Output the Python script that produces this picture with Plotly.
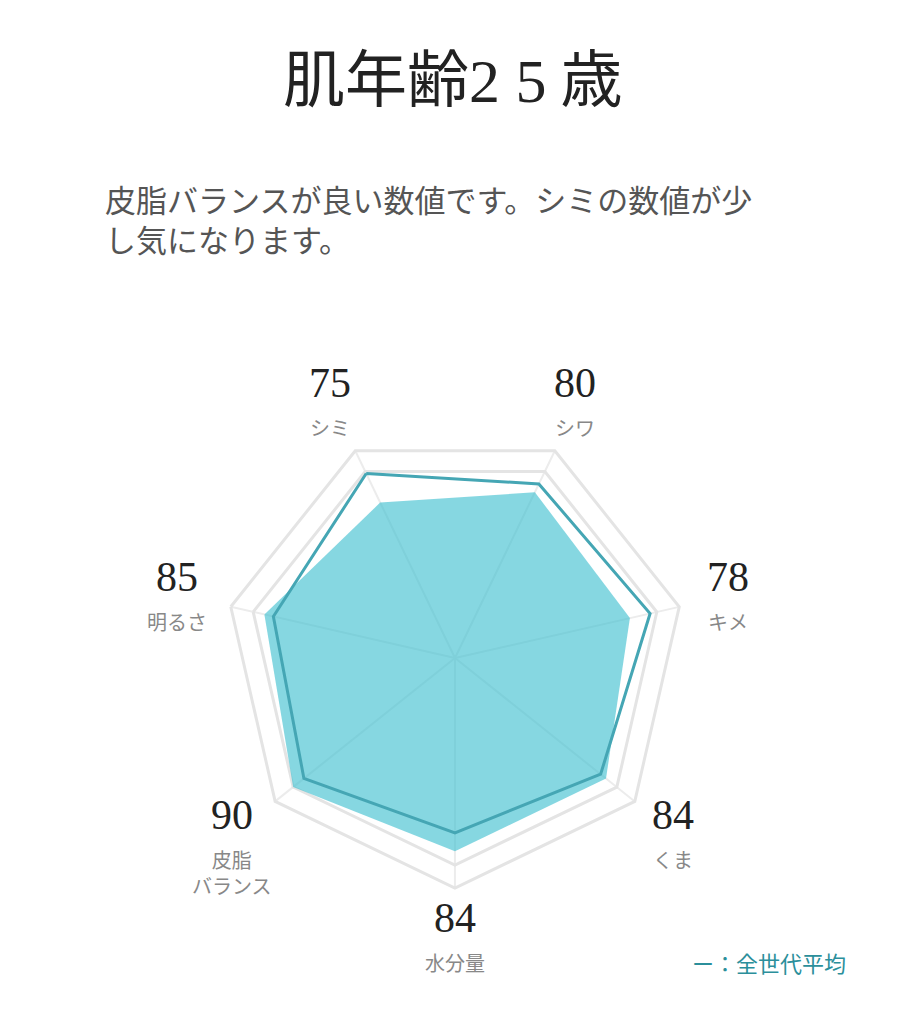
import plotly.graph_objects as go

categories = ["シミ", "シワ", "キメ", "くま", "水分量", "皮脂<br>バランス", "明るさ"]
scores = [75, 80, 78, 84, 84, 90, 85]
average = [89, 84, 87, 81, 76, 84, 81]

# label positions in pixels (x, y of the number centre)
label_pos = [(330, 383), (575, 383), (728, 577), (673, 815), (455, 918), (232, 815), (177, 577)]

W, H = 907, 1024
OFF = 8  # page body margin


def px(x):
    return (x - OFF) / W


def py(y):
    return 1 - (y - OFF) / H


fig = go.Figure()
fig.add_trace(go.Scatterpolar(
    r=scores + scores[:1], theta=categories + categories[:1],
    fill="toself", fillcolor="rgba(60,190,206,0.62)",
    line=dict(color="rgba(0,0,0,0)", width=0), mode="lines", hoverinfo="skip"))
fig.add_trace(go.Scatterpolar(
    r=average + average[:1], theta=categories + categories[:1],
    mode="lines", line=dict(color="#45a6b4", width=3), hoverinfo="skip"))

fig.update_layout(
    width=W, height=H, margin=dict(l=0, r=0, t=0, b=0),
    paper_bgcolor="white", showlegend=False,
    font=dict(family="Noto Sans CJK JP"),
    polar=dict(
        domain=dict(x=[px(225), px(685)], y=[py(888), py(428)]),
        bgcolor="white", gridshape="linear",
        radialaxis=dict(range=[0, 100], tickvals=[90], showticklabels=False,
                        ticks="", showline=False, gridcolor="#e4e4e4", gridwidth=3),
        angularaxis=dict(direction="clockwise", rotation=115.7, showticklabels=False,
                         ticks="", linecolor="#e4e4e4", linewidth=3,
                         gridcolor="#ececec", gridwidth=1.5),
    ),
)

ann = [
    dict(text="肌年齢<span style='font-family:Liberation Serif'>2 5</span> 歳", x=px(452), y=py(75),
         font=dict(size=62, color="#222"), xanchor="center", yanchor="middle"),
    dict(text="皮脂バランスが良い数値です。シミの数値が少<br>し気になります。", x=px(103), y=py(218),
         xanchor="left", yanchor="middle", align="left", font=dict(size=31, color="#555")),
    dict(text="ー：全世代平均", x=px(848), y=py(962), xanchor="right", yanchor="middle",
         font=dict(size=22, color="#2b8f9b")),
]
for cat, val, (lx, ly) in zip(categories, scores, label_pos):
    ann.append(dict(text=str(val), x=px(lx), y=py(ly), xanchor="center", yanchor="middle",
                    font=dict(size=42, color="#222", family="Liberation Serif")))
    ann.append(dict(text=cat, x=px(lx), y=py(ly + 28), xanchor="center", yanchor="top",
                    font=dict(size=20, color="#888")))
for a in ann:
    a.update(xref="paper", yref="paper", showarrow=False)
fig.update_layout(annotations=ann)

fig.write_html("out.html")
